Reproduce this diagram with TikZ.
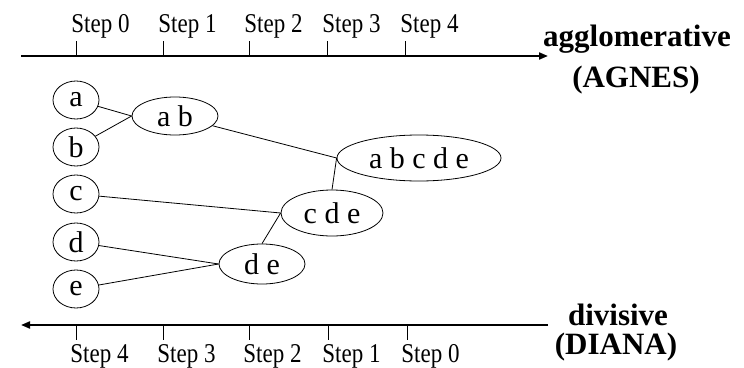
\documentclass[tikz,border=0pt]{standalone}
\usepackage{graphicx}
\usepackage{fontspec}
\setmainfont{Liberation Serif}
\usetikzlibrary{shapes.geometric,arrows.meta}
\newcommand\steptext[1]{\scalebox{1}[1.18]{Step #1}}
\begin{document}
\begin{tikzpicture}[x=1pt,y=-1pt,line width=0.8pt,
	leaf/.style={draw,ellipse,inner sep=0pt,minimum width=46pt,minimum height=38pt,font=\fontsize{30}{30}\selectfont},
	cluster/.style={draw,ellipse,inner sep=0pt,font=\fontsize{30}{30}\selectfont},
	steplabel/.style={anchor=base west,inner sep=0pt,font=\fontsize{23}{23}\selectfont},
	method/.style={anchor=base,inner sep=0pt,font=\fontsize{31}{31}\selectfont\bfseries},
	axis/.style={line width=2pt,-{Triangle[length=9pt,width=7pt]}}]
	\useasboundingbox (0,0) rectangle (744,367);
	% top axis
	\coordinate (topl) at (21,56); \coordinate (topr) at (548,56);
	\draw[axis] (topl) -- (topr);
	\foreach \x/\s in {76/0,163/1,249/2,327/3,405/4}{
		\draw (\x,41) -- (\x,56);
		\node[steplabel] (up\s) at (\x-5,32) {\steptext{\s}};}
	\node[method] (agg) at (637,46) {agglomerative};
	\node[method] (agnes) at (636,87) {(AGNES)};
	% bottom axis
	\coordinate (botl) at (21,325); \coordinate (botr) at (548,325);
	\draw[axis] (botr) -- (botl);
	\foreach \x/\s in {76/4,163/3,249/2,328/1,407/0}{
		\draw (\x,325) -- (\x,340);
		\node[steplabel] (down\s) at (\x-6,362) {\steptext{\s}};}
	\node[method] (div) at (618,325) {divisive};
	\node[method] (diana) at (616,354) {(DIANA)};
	% objects and clusters
	\foreach \n/\y in {a/100,b/147,c/194,d/242,e/289}
		\node[leaf] (\n) at (76,\y) {\n};
	\node[cluster,minimum width=86pt,minimum height=38pt] (ab) at (175,116) {a b};
	\node[cluster,minimum width=164pt,minimum height=46pt] (abcde) at (419,158) {a b c d e};
	\node[cluster,minimum width=102pt,minimum height=46pt] (cde) at (332,213) {c d e};
	\node[cluster,minimum width=86pt,minimum height=40pt] (de) at (262,264) {d e};
	\draw (a) -- (ab.west);
	\draw (b) -- (ab.west);
	\draw (ab) -- (abcde.west);
	\draw (abcde.west) -- (cde.north);
	\draw (c) -- (cde.west);
	\draw (cde.west) -- (de.north);
	\draw (d) -- (de.west);
	\draw (e) -- (de.west);
\end{tikzpicture}
\end{document}
